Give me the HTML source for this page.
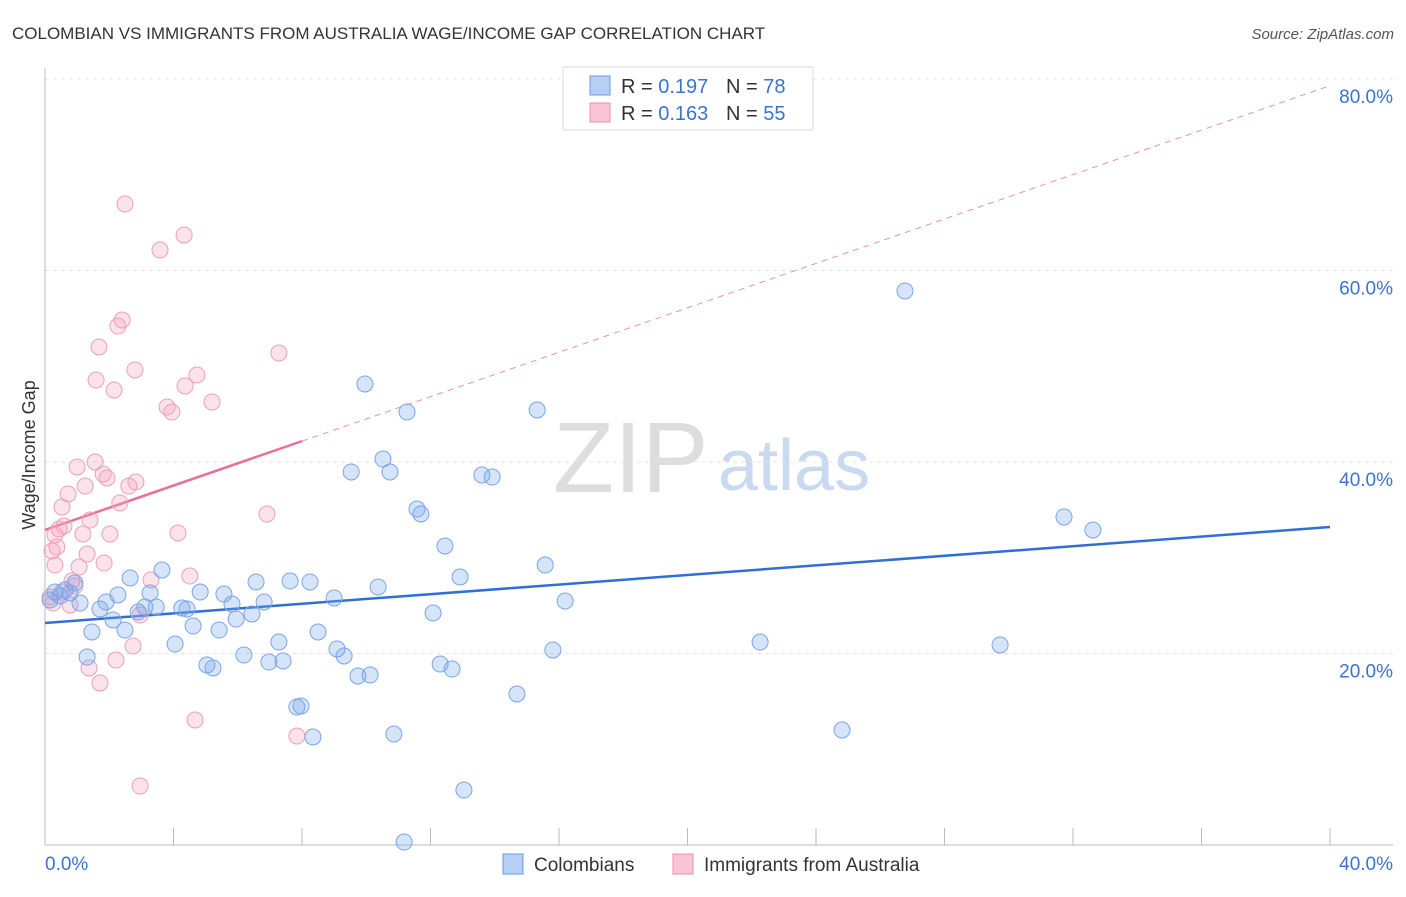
<!DOCTYPE html>
<html><head><meta charset="utf-8"><style>
body{margin:0;background:#fff;font-family:"Liberation Sans",sans-serif;}
svg text{font-family:"Liberation Sans",sans-serif;}
</style></head><body>
<svg id="chart" width="1406" height="892">
<text x="12" y="39" font-size="17" fill="#333">COLOMBIAN VS IMMIGRANTS FROM AUSTRALIA WAGE/INCOME GAP CORRELATION CHART</text>
<text x="1394" y="39" font-size="15" fill="#555" font-style="italic" text-anchor="end">Source: ZipAtlas.com</text>
<g><text x="553" y="492" font-size="100" font-family="Liberation Serif" fill="#ddd">ZIP</text><text x="718" y="490" font-size="72" fill="#c8d9f0">atlas</text></g>
<g id="grid"></g><g id="lines"></g><g id="pts"></g>
<text x="35" y="455" font-size="18" fill="#333" text-anchor="middle" transform="rotate(-90 35 455)">Wage/Income Gap</text>
<g>
<rect x="563" y="67" width="250" height="63" fill="#fff" stroke="#ddd"/>
<rect x="590" y="76" width="20" height="19" fill="#b5cff5" stroke="#6a9be0"/>
<rect x="590" y="103" width="20" height="19" fill="#f8c4d6" stroke="#e990b0"/>
<text x="621" y="93" font-size="20" fill="#333">R = <tspan fill="#3a74d0">0.197</tspan><tspan x="726">N = </tspan><tspan fill="#3a74d0">78</tspan></text>
<text x="621" y="120" font-size="20" fill="#333">R = <tspan fill="#3a74d0">0.163</tspan><tspan x="726">N = </tspan><tspan fill="#3a74d0">55</tspan></text>
</g>
<g>
<rect x="503" y="854" width="20" height="20" fill="#b5cff5" stroke="#6a9be0"/>
<text x="534" y="871" font-size="19" fill="#333">Colombians</text>
<rect x="673" y="854" width="20" height="20" fill="#f8c4d6" stroke="#e990b0"/>
<text x="704" y="871" font-size="19" fill="#333">Immigrants from Australia</text>
</g>
</svg>
<script>
const yTicks=[20,40,60,80];
const xTickLabels=["0.0%","40.0%"];
const blueX=[26.77,9.96,11.27,15.32,9.53,10.52,10.74,13.60,13.92,11.58,11.70,31.72,32.62,12.45,15.57,3.64,12.92,2.65,6.57,7.63,8.25,10.37,4.83,5.57,3.27,2.27,9.00,6.82,5.82,1.90,1.09,3.11,3.46,4.26,4.42,16.19,2.90,1.71,5.95,6.44,2.12,12.08,4.61,5.42,2.49,1.46,8.50,7.28,4.05,22.26,29.73,6.19,9.09,9.31,15.81,1.31,5.04,5.23,6.97,7.41,12.30,12.67,9.74,10.12,14.69,7.84,7.97,8.34,10.86,24.81,13.04,11.18,0.31,0.47,0.62,0.78,0.93,0.16];
const blueY=[57.86,48.15,45.22,45.43,38.96,40.31,38.96,38.64,38.43,35.09,34.57,34.26,32.90,31.23,29.24,28.72,27.99,27.89,27.47,27.57,27.47,26.95,26.42,26.21,26.32,26.11,25.80,25.38,25.17,25.38,25.27,24.86,24.86,24.75,24.65,25.48,24.33,24.65,23.60,24.13,23.50,24.23,22.87,22.45,22.45,22.25,22.25,21.20,20.99,21.20,20.89,19.84,20.47,19.74,20.37,19.63,18.80,18.49,19.11,19.22,18.90,18.38,17.65,17.75,15.77,14.41,14.52,11.28,11.59,12.01,5.74,0.31,26.42,26.01,26.63,26.32,27.36,25.59];
const pinkX=[2.49,4.33,3.58,2.40,2.27,7.28,1.68,2.80,4.73,1.59,4.36,2.15,5.20,3.80,3.95,1.00,1.56,1.81,1.93,2.61,2.83,1.25,0.72,2.33,6.91,1.40,0.53,0.59,0.44,0.31,1.18,2.02,4.14,0.37,0.22,1.31,1.84,1.06,0.31,4.51,3.30,0.84,0.93,0.53,0.16,0.25,0.78,2.96,2.74,2.21,1.37,1.71,4.67,7.84,2.96];
const pinkY=[66.95,63.71,62.14,54.83,54.20,51.38,52.01,49.61,49.09,48.56,47.94,47.52,46.27,45.74,45.22,39.48,40.00,38.75,38.33,37.49,37.91,37.49,36.66,35.72,34.57,33.94,35.30,33.32,33.00,32.38,32.48,32.48,32.59,31.12,30.71,30.39,29.45,29.03,29.24,28.09,27.68,27.57,27.05,26.42,25.90,25.27,25.07,24.02,20.78,19.32,18.49,16.92,13.06,11.38,6.16];
const blueLine=[23.19,0.2505];
const pinkLine=[32.9,1.16];
const pinkSolidEnd=8.0;
const X0=45,X1=1330,Y0=845,YPX=191.5/20;
const sx=v=>X0+(v/40)*(X1-X0);
const sy=v=>Y0-v*YPX;
const NS="http://www.w3.org/2000/svg";
function mk(t,a,p){const e=document.createElementNS(NS,t);for(const k in a)e.setAttribute(k,a[k]);p.appendChild(e);return e;}
const grid=document.getElementById('grid');
yTicks.forEach(t=>{
 const l=mk('line',{x1:X0,x2:1393,y1:sy(t),y2:sy(t),stroke:'#e4e4e4','stroke-dasharray':'4,4'},grid);
 
 
 const tx=mk('text',{x:1393,y:sy(t)+24,'font-size':19,fill:'#3a74d0','text-anchor':'end'},grid);tx.textContent=t.toFixed(1)+'%';
 
 
});
const ax=mk('line',{x1:X0,x2:X0,y1:68,y2:Y0,stroke:'#bbb'},grid);


const bx=mk('line',{x1:X0,x2:1393,y1:Y0,y2:Y0,stroke:'#bbb'},grid);


for(let i=0;i<=10;i++){const t=mk('line',{x1:sx(i*4),x2:sx(i*4),y1:Y0-17,y2:Y0,stroke:'#bbb'},grid);
 
 }
[[0,'start',X0],[1,'end',1393]].forEach(([i,a,x])=>{const t=mk('text',{x:x,y:870,'font-size':19,fill:'#3a74d0','text-anchor':a},grid);t.textContent=xTickLabels[i];
 
 });
const lines=document.getElementById('lines');
const bl=mk('line',{x1:sx(0),y1:sy(blueLine[0]),x2:sx(40),y2:sy(blueLine[0]+40*blueLine[1]),stroke:'#2f6fd6','stroke-width':2.5},lines);


const pd=mk('line',{x1:sx(pinkSolidEnd),y1:sy(pinkLine[0]+pinkSolidEnd*pinkLine[1]),x2:sx(40),y2:sy(pinkLine[0]+40*pinkLine[1]),stroke:'#e990b0','stroke-width':1,'stroke-dasharray':'6,5'},lines);


const ps=mk('line',{x1:sx(0),y1:sy(pinkLine[0]),x2:sx(pinkSolidEnd),y2:sy(pinkLine[0]+pinkSolidEnd*pinkLine[1]),stroke:'#e8709a','stroke-width':2.5},lines);


const pts=document.getElementById('pts');
pinkX.forEach((v,i)=>{const c=mk('circle',{cx:sx(v),cy:sy(pinkY[i]),r:8,fill:'rgba(244,160,190,0.3)',stroke:'#eba0bb','stroke-width':1},pts);
 
 });
blueX.forEach((v,i)=>{const c=mk('circle',{cx:sx(v),cy:sy(blueY[i]),r:8,fill:'rgba(120,165,235,0.3)',stroke:'#7aa6e6','stroke-width':1},pts);
 
 });
</script>
</body></html>
